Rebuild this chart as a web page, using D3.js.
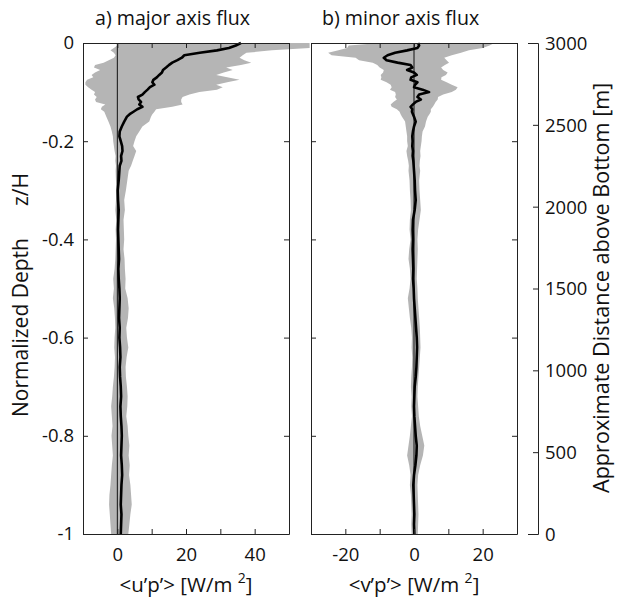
<!DOCTYPE html>
<html>
<head>
<meta charset="utf-8">
<script src="https://cdn.jsdelivr.net/npm/d3@7"></script>
<style>
  body { margin: 0; background: #fff; }
</style>
</head>
<body>
<div id="flux_chart"></div>
<script>
// normalized depth z/H (shared by both panels)
const depth = [0, -0.005, -0.01, -0.015, -0.02, -0.025, -0.03, -0.035, -0.04, -0.045,
  -0.05, -0.055, -0.06, -0.065, -0.07, -0.075, -0.08, -0.085, -0.09, -0.095,
  -0.1, -0.105, -0.11, -0.115, -0.12, -0.125, -0.13, -0.135, -0.14, -0.145,
  -0.15, -0.16, -0.17, -0.18, -0.19, -0.2, -0.21, -0.22, -0.23, -0.24,
  -0.25, -0.26, -0.28, -0.3,
  -0.32, -0.34, -0.36, -0.38, -0.4, -0.42, -0.44, -0.46, -0.48, -0.5,
  -0.52, -0.54, -0.56, -0.58, -0.6, -0.62, -0.64, -0.66, -0.68, -0.7,
  -0.72, -0.74, -0.76, -0.78, -0.8, -0.82, -0.84, -0.86, -0.88, -0.9,
  -0.92, -0.94, -0.96, -0.98, -1];

// a) major axis flux <u'p'> : mean and spread
const majorMean = [36, 34.5, 32.5, 29, 24, 19.5, 18.8, 17.5, 16, 15,
  14.2, 13.3, 13, 12.2, 11.5, 10.5, 10.2, 10.8, 9.5, 8.8,
  8, 7.3, 6, 6.2, 6.9, 6.4, 7.3, 5.8, 4.7, 3.6,
  2.8, 2, 1.3, 0.7, 0.6, 1.0, 1.4, 1.5, 1.1, 1.2,
  0.7, 0.6, 0.4, 0.1,
  0.2, 0.4, 0.3, 0.2, 0.3, 0.4, 0.5, 0.3, 0.4, 0.6,
  0.7, 0.6, 0.5, 0.7, 0.6, 0.8, 0.9, 0.7, 0.8, 1.0,
  1.1, 0.9, 1.0, 1.2, 1.3, 1.2, 1.1, 1.3, 1.4, 1.2,
  1.1, 1.0, 1.2, 1.1, 1.0];
const majorLo = [0.5, 0, -1, -2, -1, -0.5, -1, -2.5, -4, -6.5,
  -6.8, -5, -6.5, -7.5, -7, -8.8, -9.3, -9.3, -8.5, -7.5,
  -6.5, -6.8, -6, -6.5, -6.2, -3.5, -4.5, -4.8, -3.8, -3.5,
  -3.2, -2.6, -2, -1.6, -1.3, -1.2, -1, -0.8, -0.5, -0.6,
  -0.4, -0.5, -0.4, -0.3,
  -0.4, -0.6, -0.3, -0.5, -0.4, -0.5, -0.6, -0.8, -1.2, -1.0,
  -1.3, -0.9, -0.7, -0.6, -0.8, -0.9, -0.7, -0.8, -1.0, -1.3,
  -1.5, -1.8, -1.6, -1.4, -1.7, -1.5, -1.3, -1.6, -1.8, -2.0,
  -2.3, -2.4, -2.2, -2.0, -1.8];
const majorHi = [56, 56, 56, 45, 37.6, 36.5, 35.6, 37, 39, 36,
  31.7, 33.6, 31, 28.8, 32, 35.6, 32, 28.8, 30.7, 29,
  23.9, 21, 19, 18.6, 18.6, 19, 16, 11.3, 10.8, 10.2,
  9.8, 9.3, 7.3, 6.4, 5.5, 5, 4.6, 5.5, 5, 4.5,
  4, 3.3, 2.9, 2.5,
  2.0, 2.2, 1.8, 1.9, 2.0, 1.8, 2.1, 2.2, 2.4, 2.3,
  3.0, 3.3, 3.1, 2.6, 2.8, 3.2, 2.7, 2.4, 2.5, 2.8,
  3.0, 2.9, 2.6, 3.0, 3.2, 3.5, 3.3, 3.6, 3.4, 3.8,
  4.0, 4.2, 3.8, 3.5, 3.2];

// b) minor axis flux <v'p'> : mean and spread
const minorMean = [1.2, 1.5, 1, -2, -5.5, -7.7, -8.8, -8, -4.8, -1,
  -0.5, -2, 0, 0.8, -0.8, -1, 1, 0.3, 0, 2.5,
  4.4, 1.5, 1, 2, 0.5, -0.3, -1, -0.5, -0.6, -0.3,
  0, 0.5, 0, -0.3, -0.5, -0.4, -0.5, -0.3, -0.4, -0.2,
  -0.1, 0, 0.2, 0.3,
  0.5, 0.2, -0.3, -0.4, -0.3, -0.4, -0.3, -0.2, -0.3, -0.1,
  0, 0.2, 0.4, 0.6, 0.8, 0.9, 0.8, 0.7, 0.5, 0.2,
  0.1, 0, 0.1, 0.3, 0.5, 0.8, 0.7, 0.4, 0, -0.2,
  -0.1, 0, 0.1, 0, 0.1];
const minorLo = [-10, -19, -19.5, -22, -25, -24, -17, -16, -12, -10.7,
  -10, -8.8, -9, -9.7, -9.5, -9.7, -8, -6.8, -6.5, -7,
  -5.5, -5.3, -5.5, -5, -6, -6.8, -6.5, -5, -4.2, -3.9,
  -3.5, -2.6, -2.4, -2.2, -2, -2, -1.8, -2.2, -2, -1.7,
  -1.5, -1.6, -1.3, -1.2,
  -1.0, -0.9, -1.2, -1.3, -1.0, -1.4, -1.6, -1.2, -1.0, -1.3,
  -1.8, -1.5, -1.2, -0.8, -0.6, -0.7, -0.5, -0.6, -0.8, -0.9,
  -0.7, -0.8, -0.6, -0.9, -1.2, -1.6, -2.0, -1.4, -1.0, -1.2,
  -0.9, -0.8, -0.7, -0.8, -0.7];
const minorHi = [23.4, 22, 20, 16, 13.7, 11, 8.8, 9.5, 10.2, 9,
  7.9, 8.5, 9.8, 9.3, 8, 7.9, 9.5, 11, 12.7, 12.2,
  11, 8.5, 7, 6.9, 6.3, 5.9, 5.5, 4.9, 4.9, 4.5,
  4, 3.5, 3.2, 2.5, 2.3, 2.2, 2, 1.8, 1.9, 1.7,
  1.6, 1.8, 1.5, 1.6,
  1.8, 2.0, 1.6, 1.2, 1.0, 1.1, 1.0, 0.9, 0.8, 1.0,
  1.1, 1.3, 1.5, 1.7, 1.8, 1.9, 1.7, 1.5, 1.3, 1.1,
  1.0, 1.2, 1.4, 1.8, 2.4, 3.0, 2.6, 1.8, 1.2, 1.0,
  1.1, 1.2, 1.3, 1.2, 1.1];

// tick values
const depthTicks = [0, -0.2, -0.4, -0.6, -0.8, -1];
const heightTicks = [0, 500, 1000, 1500, 2000, 2500, 3000];
const majorTicks = [-10, 0, 10, 20, 30, 40, 50];
const majorLabels = [0, 20, 40];
const minorTicks = [-30, -20, -10, 0, 10, 20, 30];
const minorLabels = [-20, 0, 20];

const font = "'Open Sans', sans-serif";
const width = 619, height = 601;
const top_y = 43, bottom_y = 534;

const svg = d3.select("#flux_chart")
  .append("svg")
    .attr("width", width)
    .attr("height", height)
    .attr("font-family", font);

const y = d3.scaleLinear().domain([-1, 0]).range([bottom_y, top_y]);
const yMeters = d3.scaleLinear().domain([0, 3000]).range([bottom_y, top_y]);

const panels = [
  {title: "a) major axis flux", left: 83, domain: [-10, 50], ticks: majorTicks, labels: majorLabels,
   mean: majorMean, lo: majorLo, hi: majorHi, xlabel: "<u\u2019p\u2019> [W/m ", titleX: 95},
  {title: "b) minor axis flux", left: 311, domain: [-30, 30], ticks: minorTicks, labels: minorLabels,
   mean: minorMean, lo: minorLo, hi: minorHi, xlabel: "<v\u2019p\u2019> [W/m ", titleX: 322}
];
const panelWidth = 206;

panels.forEach(function(p, k) {
  const x = d3.scaleLinear().domain(p.domain).range([p.left, p.left + panelWidth]);
  const rows = depth.map((d, i) => ({z: d, m: p.mean[i], lo: p.lo[i], hi: p.hi[i]}));
  const g = svg.append("g");

  // gray spread
  g.append("path")
    .datum(rows)
    .attr("fill", "#b5b5b5")
    .attr("d", d3.area()
      .y(d => y(d.z))
      .x0(d => x(d.lo))
      .x1(d => x(d.hi)));

  // zero line
  g.append("line")
    .attr("x1", x(0)).attr("x2", x(0))
    .attr("y1", top_y).attr("y2", bottom_y)
    .attr("stroke", "#111")
    .attr("stroke-width", 1);

  // mean profile
  g.append("path")
    .datum(rows)
    .attr("fill", "none")
    .attr("stroke", "#000")
    .attr("stroke-width", 2.6)
    .attr("stroke-linejoin", "round")
    .attr("d", d3.line()
      .x(d => x(d.m))
      .y(d => y(d.z)));

  // box with inward ticks
  g.append("g")
    .attr("transform", `translate(0,${bottom_y})`)
    .call(d3.axisBottom(x).tickValues(p.ticks).tickSizeInner(-5).tickSizeOuter(0).tickPadding(14)
      .tickFormat(d => p.labels.includes(d) ? String(d) : ""));
  g.append("g")
    .attr("transform", `translate(0,${top_y})`)
    .call(d3.axisTop(x).tickValues(p.ticks).tickSizeInner(-5).tickSizeOuter(0).tickFormat(""));
  g.append("g")
    .attr("transform", `translate(${p.left},0)`)
    .call(d3.axisLeft(y).tickValues(depthTicks).tickSizeInner(-5).tickSizeOuter(0).tickPadding(9)
      .tickFormat(d => k === 0 ? String(d) : ""));
  g.append("g")
    .attr("transform", `translate(${p.left + panelWidth},0)`)
    .call(d3.axisRight(y).tickValues(depthTicks).tickSizeInner(-5).tickSizeOuter(0).tickFormat(""));

  g.selectAll(".domain, .tick line").attr("stroke", "#222");
  g.selectAll(".tick text").attr("font-family", font).attr("font-size", 18.5).attr("fill", "#111");

  // title
  g.append("text")
    .attr("x", p.titleX)
    .attr("y", 25)
    .attr("font-size", 19.6)
    .attr("fill", "#111")
    .text(p.title);

  // x label with superscript
  const xl = g.append("text")
    .attr("x", p.left + panelWidth / 2)
    .attr("y", 592)
    .attr("text-anchor", "middle")
    .attr("font-size", 20.5)
    .attr("fill", "#111")
    .attr("xml:space", "preserve")
    .style("white-space", "pre");
  xl.append("tspan").text(p.xlabel);
  xl.append("tspan").attr("dy", -9).attr("font-size", 14).text("2");
  xl.append("tspan").attr("dy", 9).text("]");
});

// left axis label
const ylab = svg.append("text")
  .attr("transform", `translate(28,417) rotate(-90)`)
  .attr("font-size", 21)
  .attr("fill", "#111");
ylab.append("tspan").text("Normalized Depth");
ylab.append("tspan").attr("dx", 32).text("z/H");

// right axis: approximate distance above bottom
const rightAxis = svg.append("g")
  .attr("transform", `translate(538,0)`)
  .call(d3.axisLeft(yMeters).tickValues(heightTicks).tickSizeInner(5).tickSizeOuter(10).tickFormat(""));
rightAxis.selectAll(".domain, .tick line").attr("stroke", "#222");
rightAxis.selectAll(".tick text").remove();
rightAxis.selectAll(".tick").append("text")
  .attr("x", 7)
  .attr("dy", "0.35em")
  .attr("text-anchor", "start")
  .attr("font-family", font)
  .attr("font-size", 18.5)
  .attr("fill", "#111")
  .text(d => d);

svg.append("text")
  .attr("transform", `translate(609,493) rotate(-90)`)
  .attr("font-size", 21.6)
  .attr("fill", "#111")
  .text("Approximate Distance above Bottom [m]");
</script>
</body>
</html>
